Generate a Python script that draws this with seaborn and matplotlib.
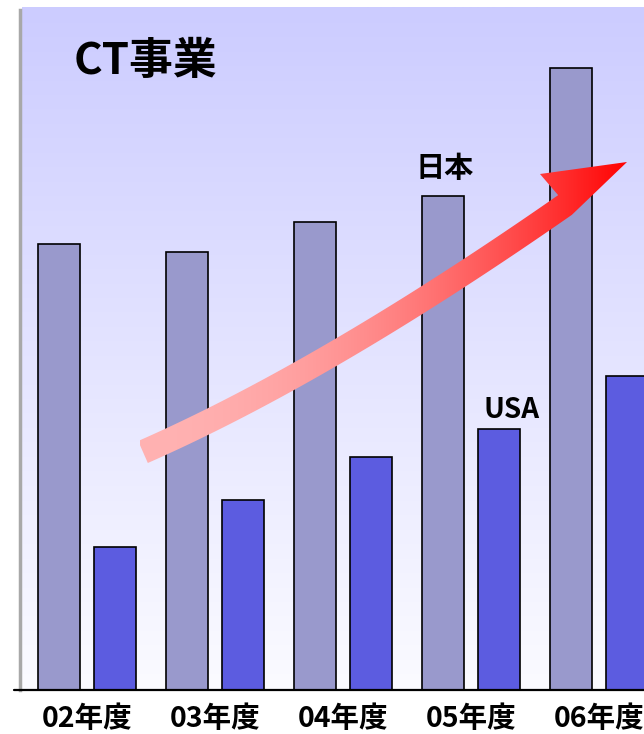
import numpy as np
import pandas as pd
import matplotlib
matplotlib.use("Agg")
import matplotlib.pyplot as plt
from matplotlib.patches import Polygon
import seaborn as sns

# data
years = ["02年度", "03年度", "04年度", "05年度", "06年度"]
countries = ["日本", "USA"]
japan = [44.6, 43.8, 46.8, 49.4, 62.2]
usa = [14.3, 19.0, 23.3, 26.1, 31.4]

df = pd.DataFrame({
    "year": years * 2,
    "country": [countries[0]] * len(years) + [countries[1]] * len(years),
    "value": japan + usa,
})

sns.set_style("white")
plt.rcParams["font.family"] = ["Noto Sans CJK JP", "DejaVu Sans"]
plt.rcParams["text.color"] = "black"
plt.rcParams["xtick.color"] = "black"

W, H = 644, 734
fig = plt.figure(figsize=(W / 100, H / 100), dpi=100)


def px_rect(l, t, r, b):
    return [l / W, 1 - b / H, (r - l) / W, (b - t) / H]


ax = fig.add_axes(px_rect(20, 7, 676, 690))
sns.barplot(
    data=df, x="year", y="value", hue="country", hue_order=countries,
    palette=["#9999cc", "#5c5ce0"], width=0.875, gap=0.25, saturation=1,
    edgecolor="black", linewidth=1.2, errorbar=None, legend=False,
    ax=ax, zorder=2,
)

x0, x1 = -0.5234, 4.6
ytop = 68.3
ax.set_xlim(x0, x1)
ax.set_ylim(0, ytop)

# background gradient, lavender at the top fading to white
grad = np.linspace(0, 1, 256)[:, None, None]
c_top = np.array([204, 204, 255]) / 255
c_bot = np.array([251, 251, 255]) / 255
bg = c_top + (c_bot - c_top) * grad
ax.imshow(bg, extent=(-0.508, x1, 0, ytop), aspect="auto", zorder=0, origin="upper")
ax.set_xlim(x0, x1)
ax.set_ylim(0, ytop)
ax.patch.set_alpha(0)

for s in ["top", "right", "bottom"]:
    ax.spines[s].set_visible(False)
ax.spines["left"].set_color("#a8a8a8")
ax.spines["left"].set_linewidth(2.5)
ax.spines["left"].set_bounds(0, 68.0)
ax.plot([-0.57, x1], [0, 0], color="black", lw=1.6, clip_on=False, zorder=3)

ax.set_yticks([])
ax.set_xlabel("")
ax.set_ylabel("")
ax.tick_params(axis="x", length=0, pad=11, labelsize=20.5, labelcolor="black")
for lab in ax.get_xticklabels():
    lab.set_fontweight("bold")

ax.text(2.79, 52.2, "日本", ha="center", va="center", fontsize=21,
        fontweight="bold", color="black", zorder=4)
ax.text(3.3125, 28.0, "USA", ha="center", va="center", fontsize=20,
        fontweight="bold", color="black", zorder=4)

# overlay in pixel coordinates for the title and the rising arrow
ov = fig.add_axes([0, 0, 1, 1])
ov.axis("off")
ov.patch.set_alpha(0)

P0 = np.array([143.0, 452.0])
P1 = np.array([326.0, 371.5])
P2 = np.array([565.0, 205.0])
t = np.linspace(0, 1, 80)[:, None]
B = (1 - t) ** 2 * P0 + 2 * (1 - t) * t * P1 + t ** 2 * P2
dB = 2 * (1 - t) * (P1 - P0) + 2 * t * (P2 - P1)
dB = dB / np.linalg.norm(dB, axis=1, keepdims=True)
nrm = np.column_stack([dB[:, 1], -dB[:, 0]])
half = 12
upper = B + half * nrm
lower = B - half * nrm
pts = np.vstack([upper, [[540, 174], [627, 162]], lower[::-1]])

f = np.linspace(0, 1, 300)
gb = 178 * (1 - f ** 2) / 255
arrow_img = np.stack([np.ones_like(f), gb, gb], axis=-1)[None, :, :]
im = ov.imshow(arrow_img, extent=(140, 630, 470, 150), aspect="auto", zorder=3)
poly = Polygon(pts, closed=True, facecolor="none", edgecolor="none")
ov.add_patch(poly)
im.set_clip_path(poly)

ov.text(145, 61, "CT事業", ha="center", va="center", fontsize=31.5,
        fontweight="bold", color="black")
ov.set_xlim(0, W)
ov.set_ylim(H, 0)

fig.savefig("out.png", dpi=100)
